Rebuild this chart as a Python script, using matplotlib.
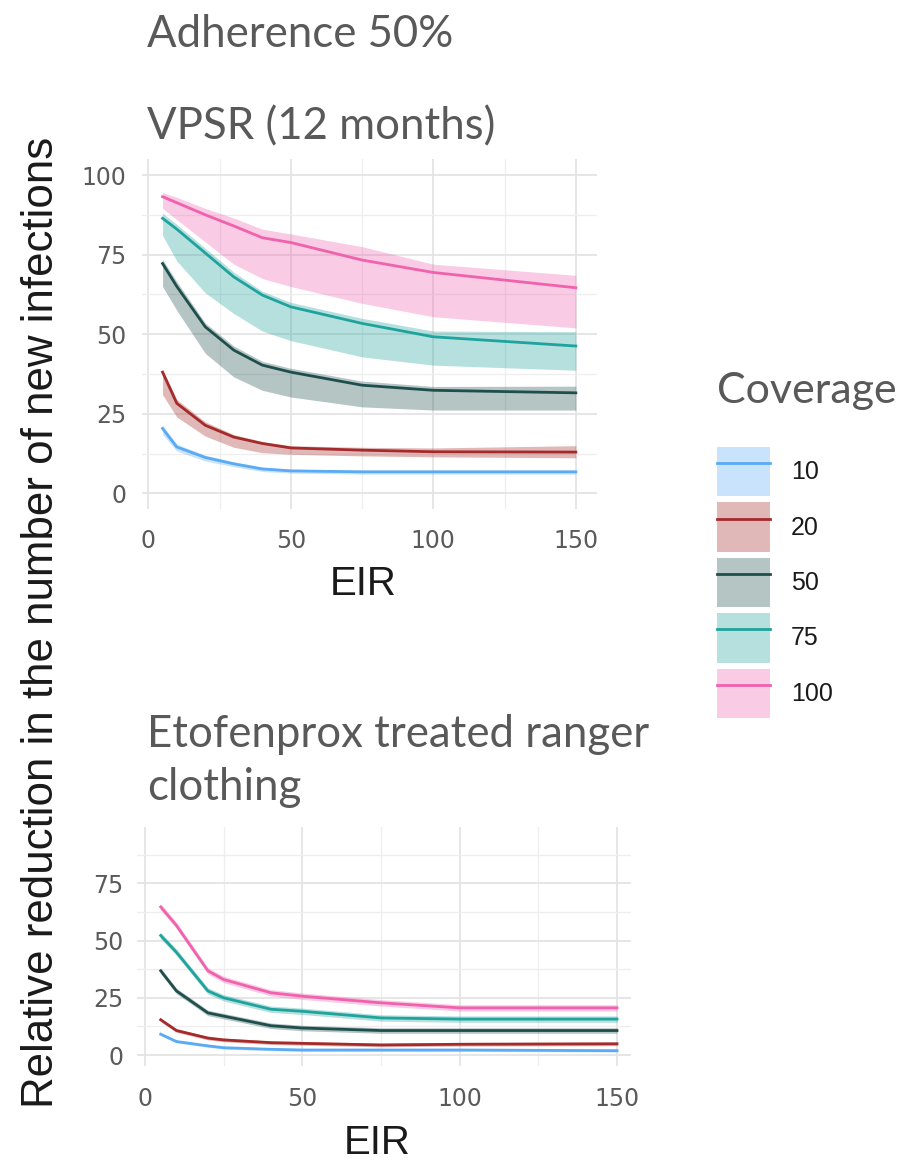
import numpy as np
import matplotlib
matplotlib.use("Agg")
import matplotlib.pyplot as plt
from matplotlib.patches import Patch
from matplotlib.lines import Line2D
from matplotlib.legend_handler import HandlerTuple
from matplotlib.ticker import MultipleLocator

# coverage levels and colours
coverage = ["10", "20", "50", "75", "100"]
colors = ["#5aaaf5", "#a52a2a", "#1f4f4d", "#20a39c", "#f062ad"]

# VPSR (12 months), median and band
x_top = [5, 10, 20, 30, 40, 50, 75, 100, 150]
top_mid = [
    [20.4, 14.6, 11.3, 9.3, 7.7, 7.1, 6.8, 6.8, 6.8],
    [38.1, 28.3, 21.4, 17.7, 15.7, 14.3, 13.6, 13.1, 13.0],
    [72.2, 65.0, 52.3, 45.0, 40.3, 38.1, 34.0, 32.4, 31.6],
    [86.4, 83.0, 75.5, 68.0, 62.3, 58.6, 53.4, 49.2, 46.3],
    [93.2, 91.3, 87.5, 84.0, 80.3, 78.8, 73.3, 69.4, 64.6],
]
top_lo = [
    [18.5, 13.3, 10.2, 8.4, 6.9, 6.4, 6.1, 6.1, 6.1],
    [31.0, 24.0, 18.0, 14.5, 12.8, 12.3, 11.8, 11.5, 11.2],
    [65.0, 57.5, 44.0, 36.6, 32.4, 30.3, 27.2, 26.2, 26.2],
    [81.0, 73.0, 63.0, 56.5, 51.0, 48.0, 42.9, 40.3, 38.7],
    [89.5, 86.0, 79.0, 72.0, 67.5, 65.0, 59.7, 55.5, 52.0],
]
top_hi = [
    [21.5, 15.5, 12.0, 10.0, 8.3, 7.6, 7.3, 7.3, 7.3],
    [39.0, 29.5, 22.5, 18.5, 16.3, 15.0, 14.5, 14.3, 15.0],
    [73.5, 66.5, 53.5, 46.3, 41.5, 39.3, 35.3, 33.6, 33.7],
    [88.0, 84.5, 77.0, 69.5, 63.5, 60.0, 55.0, 51.0, 50.8],
    [94.5, 93.0, 89.5, 86.5, 83.0, 81.5, 77.5, 72.0, 68.5],
]

# Etofenprox treated ranger clothing
x_bot = [5, 10, 20, 25, 40, 50, 75, 100, 150]
bot_mid = [
    [9.1, 5.9, 4.0, 3.2, 2.5, 2.2, 2.2, 2.2, 1.9],
    [15.4, 10.7, 7.4, 6.6, 5.4, 5.1, 4.4, 4.7, 4.9],
    [36.8, 28.0, 18.4, 17.0, 12.8, 11.8, 10.7, 10.7, 10.7],
    [52.2, 44.9, 28.0, 25.0, 20.0, 19.1, 16.2, 15.7, 15.7],
    [64.7, 56.6, 36.8, 33.0, 27.2, 25.7, 22.8, 20.6, 20.6],
]
bot_err = [0.6, 0.8, 1.2, 1.4, 1.4]

W, H = 902, 1164
fig = plt.figure(figsize=(W / 100, H / 100), dpi=100)

def style_axes(ax, xlim, ylim, yticks, xpad, ypad):
    ax.set_xlim(*xlim)
    ax.set_ylim(*ylim)
    ax.set_xticks([0, 50, 100, 150])
    ax.set_yticks(yticks)
    ax.xaxis.set_minor_locator(MultipleLocator(25))
    ax.yaxis.set_minor_locator(MultipleLocator(12.5))
    ax.grid(True, which="major", color="#e4e4e4", lw=1.3)
    ax.grid(True, which="minor", color="#eeeeee", lw=0.9)
    ax.set_axisbelow(True)
    for s in ax.spines.values():
        s.set_visible(False)
    ax.tick_params(which="both", length=0, labelsize=17, labelcolor="#5a5a5a")
    ax.tick_params(axis="x", pad=xpad)
    ax.tick_params(axis="y", pad=ypad)

# top panel
ax1 = fig.add_axes([141.9 / W, 1 - 509.4 / H, 454.6 / W, 350.3 / H])
for i in range(5):
    ax1.fill_between(x_top, top_lo[i], top_hi[i], color=colors[i], alpha=0.33, lw=0)
for i in range(5):
    ax1.plot(x_top, top_mid[i], color=colors[i], lw=2)
style_axes(ax1, (-2.25, 157.25), (-5, 105), [0, 25, 50, 75, 100], 14, 11)

# bottom panel
ax2 = fig.add_axes([137.1 / W, 1 - 1065.9 / H, 494.1 / W, 239.2 / H])
for i in range(5):
    lo = np.array(bot_mid[i]) - bot_err[i]
    hi = np.array(bot_mid[i]) + bot_err[i]
    ax2.fill_between(x_bot, lo, hi, color=colors[i], alpha=0.33, lw=0)
for i in range(5):
    ax2.plot(x_bot, bot_mid[i], color=colors[i], lw=2)
style_axes(ax2, (-2.5, 154.5), (-4.75, 99.75), [0, 25, 50, 75], 15, 10)

# titles
title_kw = dict(fontsize=31.5, color="#595959", family="Lato", ha="left", va="baseline")
fig.text(147 / W, 1 - 47 / H, "Adherence 50%", **title_kw)
fig.text(147 / W, 1 - 139 / H, "VPSR (12 months)", **title_kw)
fig.text(147 / W, 1 - 747 / H, "Etofenprox treated ranger", **title_kw)
fig.text(147 / W, 1 - 800 / H, "clothing", **title_kw)

# axis labels
fig.text(363 / W, 1 - 595 / H, "EIR", fontsize=29, color="#1a1a1a",
         family="Liberation Sans", ha="center", va="baseline")
fig.text(377 / W, 1 - 1154 / H, "EIR", fontsize=29, color="#1a1a1a",
         family="Liberation Sans", ha="center", va="baseline")
fig.text(42 / W, 1 - 622 / H, "Relative reduction in the number of new infections",
         fontsize=31.6, color="#1a1a1a", family="Liberation Sans",
         rotation=90, ha="center", va="center")

# legend
fig.text(717 / W, 1 - 403 / H, "Coverage", **dict(title_kw, fontsize=31))
handles = []
for c in colors:
    handles.append((Patch(facecolor=c, alpha=0.33, edgecolor="none"),
                    Line2D([], [], color=c, lw=2)))
leg = fig.legend(handles, coverage, loc="upper left",
                 bbox_to_anchor=(717 / W, 1 - 447 / H),
                 handler_map={tuple: HandlerTuple(ndivide=1)},
                 frameon=False, borderpad=0, borderaxespad=0,
                 handlelength=2.1, handleheight=2.65, labelspacing=0.25,
                 handletextpad=0.85, prop={"family": "Liberation Sans", "size": 18})
for t in leg.get_texts():
    t.set_color("#1a1a1a")

fig.savefig("out.png", dpi=100)
